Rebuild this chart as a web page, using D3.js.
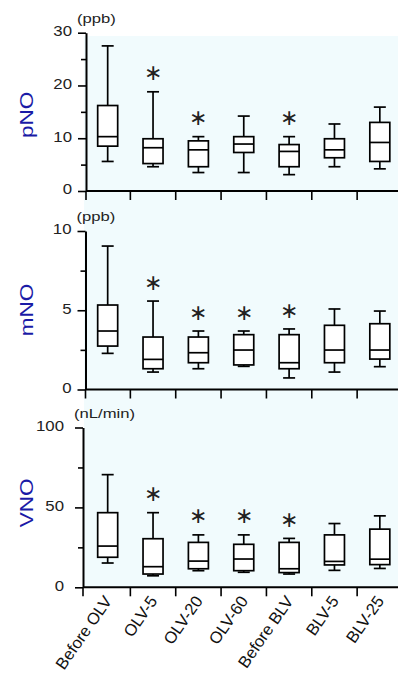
<!DOCTYPE html>
<html>
<head>
<meta charset="utf-8">
<script src="https://cdn.jsdelivr.net/npm/d3@7"></script>
<style>
  html, body { margin: 0; padding: 0; background: #fff; }
  svg { display: block; }
  text { font-family: "Liberation Sans", Arial, sans-serif; }
</style>
</head>
<body>
<svg id="chart" width="398" height="700"></svg>
<script>
// ---------- data ----------
const categories = ["Before OLV", "OLV-5", "OLV-20", "OLV-60", "Before BLV", "BLV-5", "BLV-25"];

// each entry: [min, q1, median, q3, max]
const pNO = [
  [5.6, 8.5, 10.3, 16.2, 27.5],
  [4.6, 5.2, 8.2, 9.9, 18.8],
  [3.5, 4.6, 7.8, 9.5, 10.3],
  [3.5, 7.3, 8.9, 10.3, 14.2],
  [3.1, 4.6, 7.5, 8.8, 10.3],
  [4.6, 6.3, 7.8, 9.9, 12.7],
  [4.2, 5.6, 9.2, 13.0, 15.9]
];
const mNO = [
  [2.28, 2.74, 3.69, 5.33, 9.05],
  [1.10, 1.31, 1.90, 3.31, 5.58],
  [1.31, 1.69, 2.32, 3.31, 3.69],
  [1.46, 1.55, 2.49, 3.46, 3.69],
  [0.73, 1.31, 1.69, 3.46, 3.82],
  [1.10, 1.69, 2.49, 4.05, 5.08],
  [1.44, 1.92, 2.49, 4.15, 4.95]
];
const VNO = [
  [15.2, 18.8, 25.8, 46.7, 70.5],
  [7.2, 8.3, 12.9, 30.4, 46.7],
  [10.4, 11.6, 16.4, 28.1, 32.8],
  [9.4, 10.4, 17.7, 26.9, 32.8],
  [8.3, 9.2, 11.6, 28.1, 30.6],
  [10.6, 14.0, 16.2, 32.8, 39.9],
  [11.8, 14.2, 17.6, 36.4, 44.7]
];

// significance markers (1 = asterisk)
const pNO_sig = [0, 1, 1, 0, 1, 0, 0];
const mNO_sig = [0, 1, 1, 1, 1, 0, 0];
const VNO_sig = [0, 1, 1, 1, 1, 0, 0];

// axis ticks
const pNO_ticks = [0, 10, 20, 30];
const pNO_minor = [5, 15, 25];
const mNO_ticks = [0, 5, 10];
const mNO_minor = [2.5, 7.5];
const VNO_ticks = [0, 50, 100];
const VNO_minor = [25, 75];

const titles = ["pNO", "mNO", "VNO"];
const units = ["(ppb)", "(ppb)", "(nL/min)"];

// ---------- layout ----------
const W = 398;
const panels = [
  { data: pNO, sig: pNO_sig, ticks: pNO_ticks, minor: pNO_minor, max: 30, title: titles[0], unit: units[0],
    y0: 191, y1: 32.7, axisX: 86, labelGap: 14, titleY: 115 },
  { data: mNO, sig: mNO_sig, ticks: mNO_ticks, minor: mNO_minor, max: 10, title: titles[1], unit: units[1],
    y0: 389.5, y1: 231, axisX: 85.5, labelGap: 14, titleY: 310 },
  { data: VNO, sig: VNO_sig, ticks: VNO_ticks, minor: VNO_minor, max: 100, title: titles[2], unit: units[2],
    y0: 587.3, y1: 427.5, axisX: 83, labelGap: 19, titleY: 503 }
];

// widen a text element along its baseline
function stretch(sel, k) {
  sel.each(function () {
    const len = this.getComputedTextLength();
    d3.select(this).attr("textLength", len * k).attr("lengthAdjust", "spacingAndGlyphs");
  });
}

const svg = d3.select("#chart");

// background
svg.append("rect")
  .attr("x", 84).attr("y", 36)
  .attr("width", W - 84).attr("height", 587.3 - 36)
  .attr("fill", "#f1fbfd");

const x = d3.scaleBand().domain(categories).range([85, 402.5]).paddingInner(0).paddingOuter(0);
const boxW = 20, capW = 12;
const starSize = 22;

panels.forEach((p, pi) => {
  const g = svg.append("g");
  const y = d3.scaleLinear().domain([0, p.max]).range([p.y0, p.y1]);

  // boxes
  const rows = categories.map((c, i) => ({ c, v: p.data[i], s: p.sig[i] }));
  const bg = g.selectAll("g.box").data(rows).join("g").attr("class", "box")
    .attr("transform", d => `translate(${x(d.c) + x.bandwidth() / 2},0)`);

  const sw = 1.7;
  bg.append("line").attr("x1", 0).attr("x2", 0)
    .attr("y1", d => y(d.v[0])).attr("y2", d => y(d.v[1]))
    .attr("stroke", "#000").attr("stroke-width", sw);
  bg.append("line").attr("x1", 0).attr("x2", 0)
    .attr("y1", d => y(d.v[3])).attr("y2", d => y(d.v[4]))
    .attr("stroke", "#000").attr("stroke-width", sw);
  bg.append("line").attr("x1", -capW / 2).attr("x2", capW / 2)
    .attr("y1", d => y(d.v[0])).attr("y2", d => y(d.v[0]))
    .attr("stroke", "#000").attr("stroke-width", sw);
  bg.append("line").attr("x1", -capW / 2).attr("x2", capW / 2)
    .attr("y1", d => y(d.v[4])).attr("y2", d => y(d.v[4]))
    .attr("stroke", "#000").attr("stroke-width", sw);
  bg.append("rect").attr("x", -boxW / 2).attr("width", boxW)
    .attr("y", d => y(d.v[3])).attr("height", d => y(d.v[1]) - y(d.v[3]))
    .attr("fill", "#fff").attr("stroke", "#000").attr("stroke-width", sw);
  bg.append("line").attr("x1", -boxW / 2).attr("x2", boxW / 2)
    .attr("y1", d => y(d.v[2])).attr("y2", d => y(d.v[2]))
    .attr("stroke", "#000").attr("stroke-width", sw);

  bg.filter(d => d.s).append("text")
    .attr("x", 0).attr("y", d => y(d.v[4]) - 18 + 0.3 * starSize)
    .attr("text-anchor", "middle")
    .attr("font-family", "'DejaVu Sans', sans-serif")
    .attr("font-weight", 200)
    .attr("font-size", starSize).attr("fill", "#222")
    .text("\u2217");

  // y axis
  const yAxis = d3.axisLeft(y).tickValues(p.ticks).tickSize(8).tickSizeOuter(0).tickPadding(p.labelGap - 8);
  const ya = g.append("g").attr("transform", `translate(${p.axisX},0)`).call(yAxis);
  ya.select(".domain").attr("stroke-width", 2);
  ya.selectAll(".tick line").attr("stroke-width", 1.6);
  ya.selectAll(".tick text").attr("font-size", 14).attr("fill", "#222")
    .attr("font-family", "'Liberation Sans', Arial, sans-serif").attr("dy", "0.2em")
    .call(stretch, 1.2);
  const yMinor = d3.axisLeft(y).tickValues(p.minor).tickSize(5).tickSizeOuter(0).tickFormat("");
  const ym = g.append("g").attr("transform", `translate(${p.axisX},0)`).call(yMinor);
  ym.select(".domain").remove();
  ym.selectAll(".tick line").attr("stroke-width", 1.6);

  // x axis
  g.append("line").attr("x1", p.axisX).attr("x2", W)
    .attr("y1", p.y0).attr("y2", p.y0)
    .attr("stroke", "#000").attr("stroke-width", 2);
  g.selectAll("line.xt").data(categories).join("line").attr("class", "xt")
    .attr("x1", (d, i) => i === 0 ? p.axisX : x(d)).attr("x2", (d, i) => i === 0 ? p.axisX : x(d))
    .attr("y1", p.y0).attr("y2", p.y0 + 9)
    .attr("stroke", "#000").attr("stroke-width", 1.6);

  // unit
  g.append("text").attr("x", p.axisX - 9).attr("y", p.y1 - 10)
    .attr("font-size", 13).attr("fill", "#222").text(p.unit)
    .call(stretch, 1.28);

  // title
  g.append("text")
    .attr("transform", `translate(33,${p.titleY}) rotate(-90)`)
    .attr("text-anchor", "middle")
    .attr("font-size", 18).attr("fill", "#1a1aa6")
    .text(p.title)
    .call(stretch, 1.25);
});

// x labels
svg.selectAll("text.xl").data(categories).join("text").attr("class", "xl")
  .attr("transform", d => `translate(${x(d) + x.bandwidth() / 2 + 5},601) rotate(-55)`)
  .attr("text-anchor", "end")
  .attr("font-size", 16.5).attr("fill", "#111")
  .text(d => d);
</script>
</body>
</html>
